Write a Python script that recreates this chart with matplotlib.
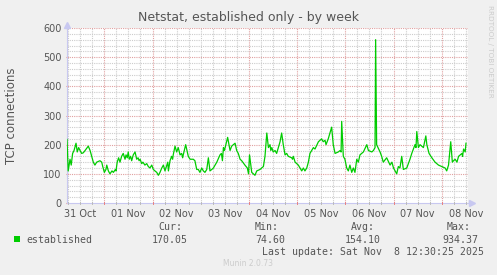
import numpy as np
import matplotlib
matplotlib.use("Agg")
import matplotlib.pyplot as plt

# hours since 31 Oct 2025 05:24 and TCP connection counts
hours = [0, 0.6, 1.5, 2.1, 2.8, 3.5, 4.5, 5.1, 5.8, 6.5, 7.3, 8.1, 9.0, 10.6, 11.5, 12.3,
         13.1, 13.9, 14.8, 16.4, 17.3, 17.8, 18.6, 19.4, 19.8, 20.6, 21.4, 22.4, 23.1,
         24.1, 24.4, 25.0, 25.7, 26.4, 27.2, 28.0, 28.9, 29.4, 30.0, 30.5, 31.0, 31.7,
         32.2, 33.0, 33.9, 34.7, 35.4, 35.9, 36.4, 37.2, 37.8, 38.8, 39.7, 40.5, 41.3,
         42.2, 43.0, 43.8, 44.7, 45.5, 46.3, 47.2, 48.0, 48.8, 49.7, 50.2, 50.5, 51.3,
         52.1, 52.6, 52.9, 53.8, 54.6, 55.4, 56.3, 57.1, 57.6, 57.9, 59.1, 59.9, 60.4,
         61.3, 62.9, 63.7, 64.6, 65.4, 66.2, 67.1, 67.9, 68.7, 69.6, 70.4, 71.2, 72.1,
         72.9, 74.6, 76.2, 76.9, 77.4, 77.9, 78.4, 80.0, 81.2, 82.0, 83.7, 84.5, 85.3,
         86.2, 87.0, 88.6, 89.8, 90.4, 90.9, 92.0, 92.8, 93.6, 94.5, 96.1, 97.8, 98.6,
         99.5, 100.3, 101.1, 101.5, 102.0, 102.7, 103.6, 104.4, 106.1, 106.9, 107.7,
         108.6, 109.4, 110.2, 111.9, 112.3, 112.7, 113.6, 115.2, 116.9, 117.7, 118.5,
         119.4, 120.2, 121.0, 122.7, 123.5, 125.2, 126.8, 127.6, 128.5, 129.0, 130.1,
         131.8, 132.6, 133.5, 135.1, 136.0, 136.5, 136.8, 137.6, 138.4, 139.3, 140.1,
         140.9, 141.8, 142.6, 143.4, 144.3, 145.1, 145.9, 147.6, 149.3, 150.1, 151.8,
         152.6, 153.4, 153.7, 154.2, 155.9, 156.7, 157.5, 159.2, 160.9, 161.8, 162.6,
         164.2, 165.0, 165.8, 166.7, 167.5, 169.2, 170.8, 171.7, 172.5, 173.3, 173.8,
         174.2, 175.0, 175.8, 177.5, 178.7, 179.2, 180.3, 181.7, 183.3, 185.0, 186.6,
         188.3, 189.1, 190.0, 191.1, 191.9, 192.5, 193.3, 194.2, 195.0, 196.7, 197.0,
         197.5, 198.3, 198.7]
conns = [218, 110, 150, 130, 170, 180, 205, 175, 190, 180, 170, 172, 180, 195, 180, 160,
         140, 130, 140, 145, 140, 125, 105, 115, 130, 110, 100, 110, 105,
         115, 110, 140, 155, 140, 160, 170, 150, 165, 155, 175, 150, 160,
         145, 165, 175, 150, 155, 145, 150, 135, 140, 130, 135, 125, 120,
         130, 115, 110, 105, 95, 105, 120, 130, 110, 130, 140, 110, 145,
         160, 150, 165, 195, 175, 190, 165, 170, 155, 165, 200, 175, 160,
         150, 150, 145, 115, 115, 105, 120, 110, 105, 115, 155, 110, 115,
         120, 140, 165, 170, 145, 190, 180, 225, 180, 195, 205, 180, 170,
         150, 145, 130, 120, 100, 165, 105, 100, 95, 110, 115, 125, 160,
         240, 190, 200, 180, 190, 175, 180, 170, 210, 240, 200,
         165, 170, 160, 155, 150, 160, 140, 130, 110, 120, 110,
         120, 140, 170, 190, 185, 210, 220, 210, 215, 200, 220,
         260, 200, 170, 175, 180, 175, 280, 160, 150, 120, 110,
         130, 105, 120, 105, 150, 140, 165, 175, 200, 180, 175,
         180, 190, 560, 200, 175, 160, 140, 155, 130, 140, 120,
         100, 125, 120, 160, 115, 120, 150, 170, 185, 200, 190,
         245, 190, 200, 190, 230, 200, 170, 155, 140, 130, 125,
         120, 110, 130, 210, 140, 145, 150, 140, 160, 170, 160,
         185, 175, 205]

t_end = 199.7
first_midnight = 18.6  # hours from start to 01 Nov 00:00
day_labels = ["31 Oct", "01 Nov", "02 Nov", "03 Nov", "04 Nov", "05 Nov", "06 Nov", "07 Nov", "08 Nov"]

W, H = 497, 275
fig = plt.figure(figsize=(W / 100, H / 100), dpi=100, facecolor="#f0f0f0")
ax = fig.add_axes([67 / W, 1 - 203 / H, 401 / W, 175 / H])
ax.set_facecolor("white")

txt = "#555555"
minor_c = "#cccccc"
major_c = "#e0a0a0"

# grid: 6h minor, midnight major
for h in np.arange(first_midnight - 18, t_end + 0.5, 6):
    if h <= 0.2:
        continue
    is_major = abs((h - first_midnight) % 24) < 0.01
    ax.axvline(h, color=major_c if is_major else minor_c, lw=0.8, ls=(0, (1, 1)), zorder=1)
    ax.plot([h, h], [-4, 4], color="#e88080" if is_major else "#bbbbbb", lw=0.7,
            clip_on=False, zorder=3)
ax.axvline(t_end, color=major_c, lw=0.8, ls=(0, (1, 1)), zorder=1)
for v in range(20, 601, 20):
    ax.axhline(v, color=major_c if v % 100 == 0 else minor_c, lw=0.8, ls=(0, (1, 1)), zorder=1)

ax.plot(hours, conns, color="#00cc00", lw=0.9, zorder=4)

ax.set_xlim(0, t_end)
ax.set_ylim(0, 600)
noon = [first_midnight - 12 + 24 * k for k in range(len(day_labels))]
ax.set_xticks(noon, day_labels)
ax.set_yticks(range(0, 601, 100))
ax.tick_params(axis="x", length=0, pad=4, labelsize=7, labelcolor=txt)
ax.tick_params(axis="y", length=2, direction="inout", color="#e88080", pad=3, labelsize=7, labelcolor=txt)
for s in ["top", "right"]:
    ax.spines[s].set_visible(False)
for s in ["left", "bottom"]:
    ax.spines[s].set_color("#c8c8f0")
    ax.spines[s].set_linewidth(0.8)
# axis arrows
ax.plot([t_end + 1.8], [0], marker=">", ms=4, color="#c8c8f0", clip_on=False, zorder=5)
ax.plot([0], [612], marker="^", ms=4, color="#c8c8f0", clip_on=False, zorder=5)

ax.set_ylabel("TCP connections", fontsize=8.5, color=txt, labelpad=18)
fig.text(249 / W, 1 - 17 / H, "Netstat, established only - by week", ha="center", va="center",
         fontsize=9, color=txt)
fig.text(490 / W, 1 - 5 / H, "RRDTOOL / TOBI OETIKER", rotation=270, ha="center", va="top",
         fontsize=5.2, color="#cccccc")

mono = dict(family="DejaVu Sans Mono", fontsize=7.1, color=txt, va="center")
fig.patches.append(plt.Rectangle((14 / W, 1 - 242 / H), 6 / W, 6 / H, transform=fig.transFigure,
                                 facecolor="#00cc00", edgecolor="none"))
fig.text(26 / W, 1 - 240 / H, "established", **mono)
fig.text(158 / W, 1 - 227 / H, "Cur:", **mono)
fig.text(152 / W, 1 - 240 / H, "170.05", **mono)
fig.text(255 / W, 1 - 227 / H, "Min:", **mono)
fig.text(255 / W, 1 - 240 / H, "74.60", **mono)
fig.text(351 / W, 1 - 227 / H, "Avg:", **mono)
fig.text(345 / W, 1 - 240 / H, "154.10", **mono)
fig.text(447 / W, 1 - 227 / H, "Max:", **mono)
fig.text(442 / W, 1 - 240 / H, "934.37", **mono)
fig.text(262 / W, 1 - 252 / H, "Last update: Sat Nov  8 12:30:25 2025", **mono)
fig.text(223 / W, 1 - 263 / H, "Munin 2.0.73", fontsize=5.5, color="#cccccc", va="center")

fig.savefig("out.png", dpi=100, facecolor=fig.get_facecolor())
